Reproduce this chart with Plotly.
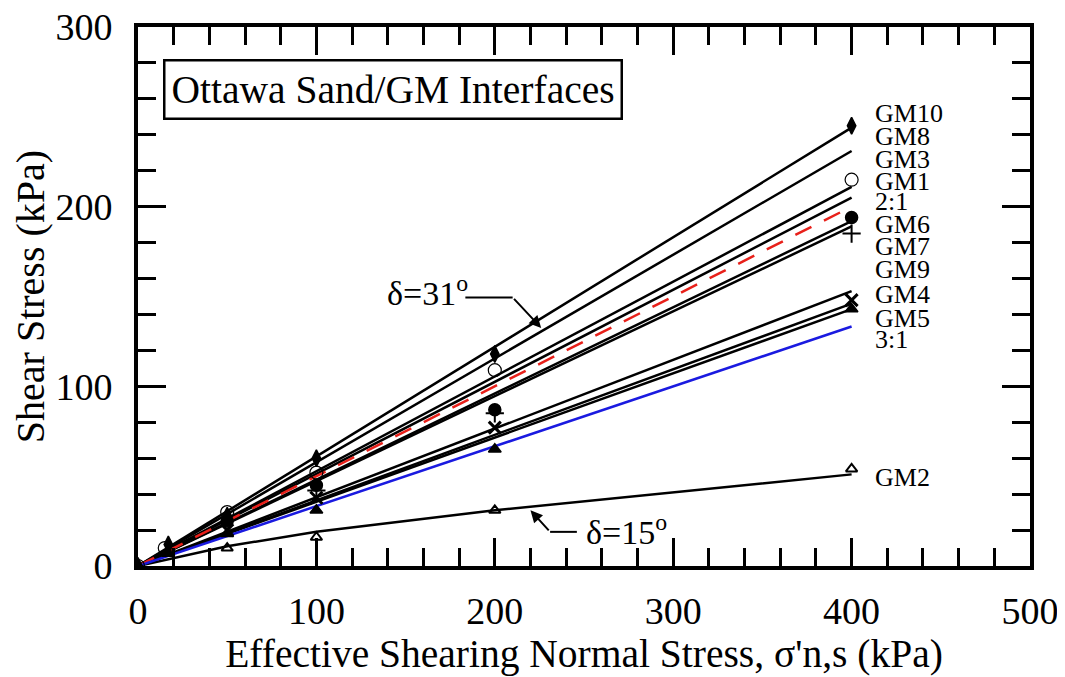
import plotly.graph_objects as go

# ---- data ----
FIT_NAMES = ["GM10", "GM8", "GM3", "GM1", "GM6", "GM7", "GM9", "GM4", "GM5"]
FIT_X = [0, 400]
FIT_END = [244, 231, 211, 205, 192, 189, 153, 146, 143]

GM2_FIT_X = [0, 50, 100, 200, 400]
GM2_FIT_Y = [0, 11, 19, 31, 51]

RATIO_X = [0, 400]
RATIO_21 = [0, 200]
RATIO_31 = [0, 133.3]

GM10_X = [0, 17, 50, 100, 200, 400]
GM10_Y = [0, 12, 28, 60, 118, 245]
GM1_X = [0, 15, 50, 100, 200, 400]
GM1_Y = [0, 10, 30, 52, 109, 215]
GM6_X = [50, 100, 200, 400]
GM6_Y = [25, 45, 87, 194]
GM7_X = [100, 200, 400]
GM7_Y = [42, 85, 185]
GM4_X = [50, 100, 200, 400]
GM4_Y = [20, 38, 77, 148]
GM5_X = [17, 50, 100, 200, 400]
GM5_Y = [7, 18, 31, 65, 143]
GM2_X = [0, 50, 100, 200, 400]
GM2_Y = [0, 10, 16, 31, 54]

LABELS = ["GM10", "GM8", "GM3", "GM1", "2:1", "GM6", "GM7", "GM9", "GM4", "GM5", "3:1", "GM2"]
LABEL_Y = [252, 239, 226, 214, 203, 190, 178, 165, 151, 138, 126, 49.5]

X_TICKS = [0, 100, 200, 300, 400, 500]
Y_TICKS = [0, 100, 200, 300]

FONT = "Liberation Serif, Times New Roman, serif"

fig = go.Figure()

for name, end in zip(FIT_NAMES, FIT_END):
    fig.add_trace(go.Scatter(x=FIT_X, y=[0, end], mode="lines",
                             line=dict(color="black", width=2.5), name=name))
fig.add_trace(go.Scatter(x=GM2_FIT_X, y=GM2_FIT_Y, mode="lines",
                         line=dict(color="black", width=2.5), name="GM2"))
fig.add_trace(go.Scatter(x=RATIO_X, y=RATIO_21, mode="lines",
                         line=dict(color="#e8201a", width=2.5, dash="18px,14px"), name="2:1"))
fig.add_trace(go.Scatter(x=RATIO_X, y=RATIO_31, mode="lines",
                         line=dict(color="#1a1ae0", width=2.5), name="3:1"))

def mk(x, y, symbol, size, fill="black", lw=1.5):
    fig.add_trace(go.Scatter(x=x, y=y, mode="markers",
                             marker=dict(symbol=symbol, size=size, color=fill,
                                         line=dict(color="black", width=lw))))

mk(GM10_X, GM10_Y, "diamond-tall", 12)
mk(GM1_X, GM1_Y, "circle-open", 13, fill="black", lw=1.2)
mk(GM6_X, GM6_Y, "circle", 12)
mk(GM7_X, GM7_Y, "cross-thin-open", 13, lw=2)
mk(GM4_X, GM4_Y, "x-thin-open", 12, lw=3)
mk(GM5_X, GM5_Y, "triangle-up", 11)
mk(GM2_X, GM2_Y, "triangle-up-open", 10, lw=2)

for lab, ly in zip(LABELS, LABEL_Y):
    fig.add_annotation(x=412, y=ly, text=lab, showarrow=False, xanchor="left",
                       yanchor="middle", font=dict(family=FONT, size=26, color="black"))

# title box
fig.add_annotation(xref="paper", yref="paper", x=0.028, y=0.884, xanchor="left", yanchor="middle",
                   text="Ottawa Sand/GM Interfaces", showarrow=False,
                   font=dict(family=FONT, size=39.5, color="black"),
                   bordercolor="black", borderwidth=2.5, borderpad=6, bgcolor="white")

# delta = 31 callout
fig.add_annotation(x=162, y=153, text="δ=31<sup>o</sup>", showarrow=False,
                   font=dict(family=FONT, size=34, color="black"))
fig.add_shape(type="line", x0=183.5, y0=149.5, x1=210, y1=149.5,
              line=dict(color="black", width=2))
fig.add_annotation(x=226, y=132.5, ax=210, ay=149.5, axref="x", ayref="y",
                   text="", showarrow=True, arrowhead=2, arrowsize=1.2, arrowwidth=2, arrowcolor="black")

# delta = 15 callout
fig.add_annotation(x=274, y=20, text="δ=15<sup>o</sup>", showarrow=False,
                   font=dict(family=FONT, size=34, color="black"))
fig.add_shape(type="line", x0=246, y0=19, x1=231, y1=19,
              line=dict(color="black", width=2))
fig.add_annotation(x=220, y=31, ax=231, ay=19, axref="x", ayref="y",
                   text="", showarrow=True, arrowhead=2, arrowsize=1.2, arrowwidth=2, arrowcolor="black")

axis_common = dict(showgrid=False, zeroline=False, showline=True, linecolor="black",
                   linewidth=4, mirror="allticks", ticks="inside", tickcolor="black",
                   tickwidth=3, ticklen=28, automargin=False, ticklabeloverflow="allow",
                   tickfont=dict(family=FONT, size=38, color="black"),
                   minor=dict(ticks="inside", ticklen=18, tickwidth=3, tickcolor="black", dtick=20))

fig.update_xaxes(range=[0, 500], tickvals=X_TICKS, ticklabelstandoff=8, **axis_common,
                 title=dict(text="Effective Shearing Normal Stress, σ'n,s (kPa)",
                            font=dict(family=FONT, size=39.5, color="black"), standoff=6))
fig.update_yaxes(range=[0, 300], tickvals=Y_TICKS, ticklabelstandoff=14, **axis_common,
                 title=dict(text="Shear Stress (kPa)",
                            font=dict(family=FONT, size=40, color="black"), standoff=6))

# page body has an 8px default margin, so shift the plot area accordingly
fig.update_layout(width=1065, height=677, showlegend=False,
                  paper_bgcolor="white", plot_bgcolor="white",
                  margin=dict(l=130, r=43, t=19, b=119))

fig.write_html("out.html")
